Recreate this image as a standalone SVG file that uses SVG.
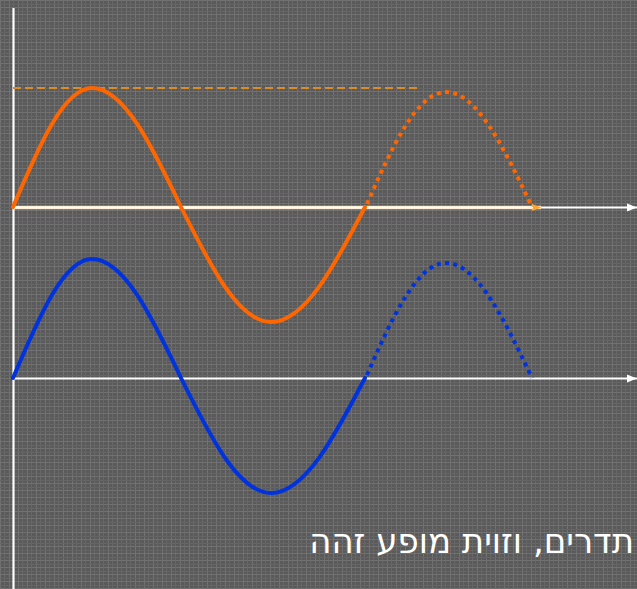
<svg xmlns="http://www.w3.org/2000/svg" width="637" height="589" viewBox="0 0 637 589">
<defs>
<pattern id="bg" width="9" height="7" patternUnits="userSpaceOnUse">
<rect width="9" height="7" fill="#5a5a5a"/>
<rect x="0" y="0" width="1" height="7" fill="#727272"/>
<rect x="4" y="0" width="1" height="7" fill="#676767"/>
<rect x="0" y="0" width="9" height="1" fill="#717171"/>
<rect x="0" y="4" width="9" height="1" fill="#656565"/>
</pattern>
<marker id="wa" viewBox="0 0 10 8" refX="10" refY="4" markerWidth="10" markerHeight="9" markerUnits="userSpaceOnUse" orient="auto">
<path d="M0,0 L10,4 L0,8 Z" fill="#ffffff"/>
</marker>
<marker id="oa" viewBox="0 0 10 8" refX="10" refY="4" markerWidth="9" markerHeight="8" markerUnits="userSpaceOnUse" orient="auto">
<path d="M0,0 L10,4 L0,8 Z" fill="#ffa530"/>
</marker>
</defs>
<style>
.axis{stroke:#ffffff;stroke-width:2.2;fill:none}
.wave{fill:none;stroke-width:4;stroke-linejoin:round}
.solid{stroke-linecap:round}
.dot{stroke-dasharray:4 4.3}
.orange{stroke:#ff6600}
.blue{stroke:#0033dd}
.lbl{font-family:"DejaVu Sans","Liberation Sans",sans-serif;font-size:34px;fill:#ffffff}
</style>
<rect width="637" height="589" fill="url(#bg)"/>
<g id="connectors">
<line class="axis" x1="13.5" y1="8" x2="13.5" y2="589" stroke-width="2.5"/>
<line x1="13" y1="207.5" x2="637" y2="207.5" class="axis" marker-end="url(#wa)"/>
<line x1="13" y1="207.5" x2="541" y2="207.5" stroke="#ffdcb0" stroke-width="3.5" marker-end="url(#oa)"/>
<line x1="13" y1="207.5" x2="533" y2="207.5" stroke="#ffffff" stroke-width="1.8"/>
<line x1="13" y1="378.5" x2="637" y2="378.5" class="axis" marker-end="url(#wa)"/>
<line x1="13" y1="88" x2="418" y2="88" stroke="#d98c2a" stroke-width="2" stroke-dasharray="8 4"/>
</g>
<g id="orange-wave">
<path class="wave solid orange" d="M13,207 C38.8,146.1 63.6,88 92,88 C124,88 152,146.1 181,207 C210.3,265.9 238.6,322 271,322 C304.8,322 334.4,265.9 365,207"/>
<path class="wave dot orange" d="M367,204 C391.4,148.1 416.8,92 446,92 C477,92 504,148.1 532,207"/>
</g>
<g id="blue-wave" transform="translate(0,171)">
<path class="wave solid blue" d="M13,207 C38.8,146.1 63.6,88 92,88 C124,88 152,146.1 181,207 C210.3,265.9 238.6,322 271,322 C304.8,322 334.4,265.9 365,207"/>
<path class="wave dot blue" d="M367,204 C391.4,148.1 416.8,92 446,92 C477,92 504,148.1 532,207"/>
</g>
<g id="label">
<text class="lbl" x="634" y="553" text-anchor="end">תדרים, וזוית מופע זהה</text>
</g>
</svg>
